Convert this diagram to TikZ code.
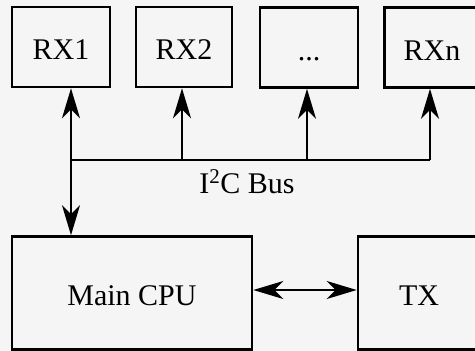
\documentclass[tikz,border=0pt]{standalone}
\usepackage{fontspec}
\setmainfont{Liberation Serif}
\usetikzlibrary{arrows.meta}
\begin{document}
\begin{tikzpicture}[x=1pt,y=-1pt,
  lbl/.style={font=\fontsize{30}{33}\selectfont},
  box/.style={draw, line width=2.6pt, inner sep=0pt, lbl, text height=25pt, text depth=0pt},
  link/.style={line width=2pt},
  tip/.style={-{Stealth[length=30pt,width=18pt,inset=9pt]}},
  twotip/.style={{Stealth[length=30pt,width=18pt,inset=9pt]}-{Stealth[length=30pt,width=18pt,inset=9pt]}}]
\useasboundingbox (0,0) rectangle (475,351);
\fill[gray!8] (0,0) rectangle (475,351);
\clip (0,0) rectangle (475,351);
\node[box, minimum width=98pt, minimum height=80pt] (rx1) at (61,47) {RX1};
\node[box, minimum width=96pt, minimum height=80pt] (rx2) at (184,47) {RX2};
\node[box, minimum width=98pt, minimum height=80pt] (rxd) at (309,47.5) {...};
\node[box, minimum width=95pt, minimum height=80pt] (rxn) at (432,47.5) {RXn};
\node[box, minimum width=240pt, minimum height=113pt] (cpu) at (132,293) {Main CPU};
\node[box, minimum width=122pt, minimum height=113pt] (tx) at (419,293) {TX};
\node[lbl, anchor=base] (bus) at (247,193) {I\textsuperscript{2}C Bus};
\coordinate (b1) at (71,160);
\coordinate (b2) at (182,160);
\coordinate (b3) at (307,160);
\coordinate (b4) at (430,160);
\draw[link] (b1) -- (b4);
\draw[link, twotip] (rx1.south -| b1) -- (cpu.north -| b1);
\draw[link, tip] (b2) -- (rx2.south -| b2);
\draw[link, tip] (b3) -- (rxd.south -| b3);
\draw[link, tip] (b4) -- (rxn.south -| b4);
\draw[link, twotip] ([yshift=3pt]cpu.east) -- ([yshift=3pt]tx.west);
\end{tikzpicture}
\end{document}
